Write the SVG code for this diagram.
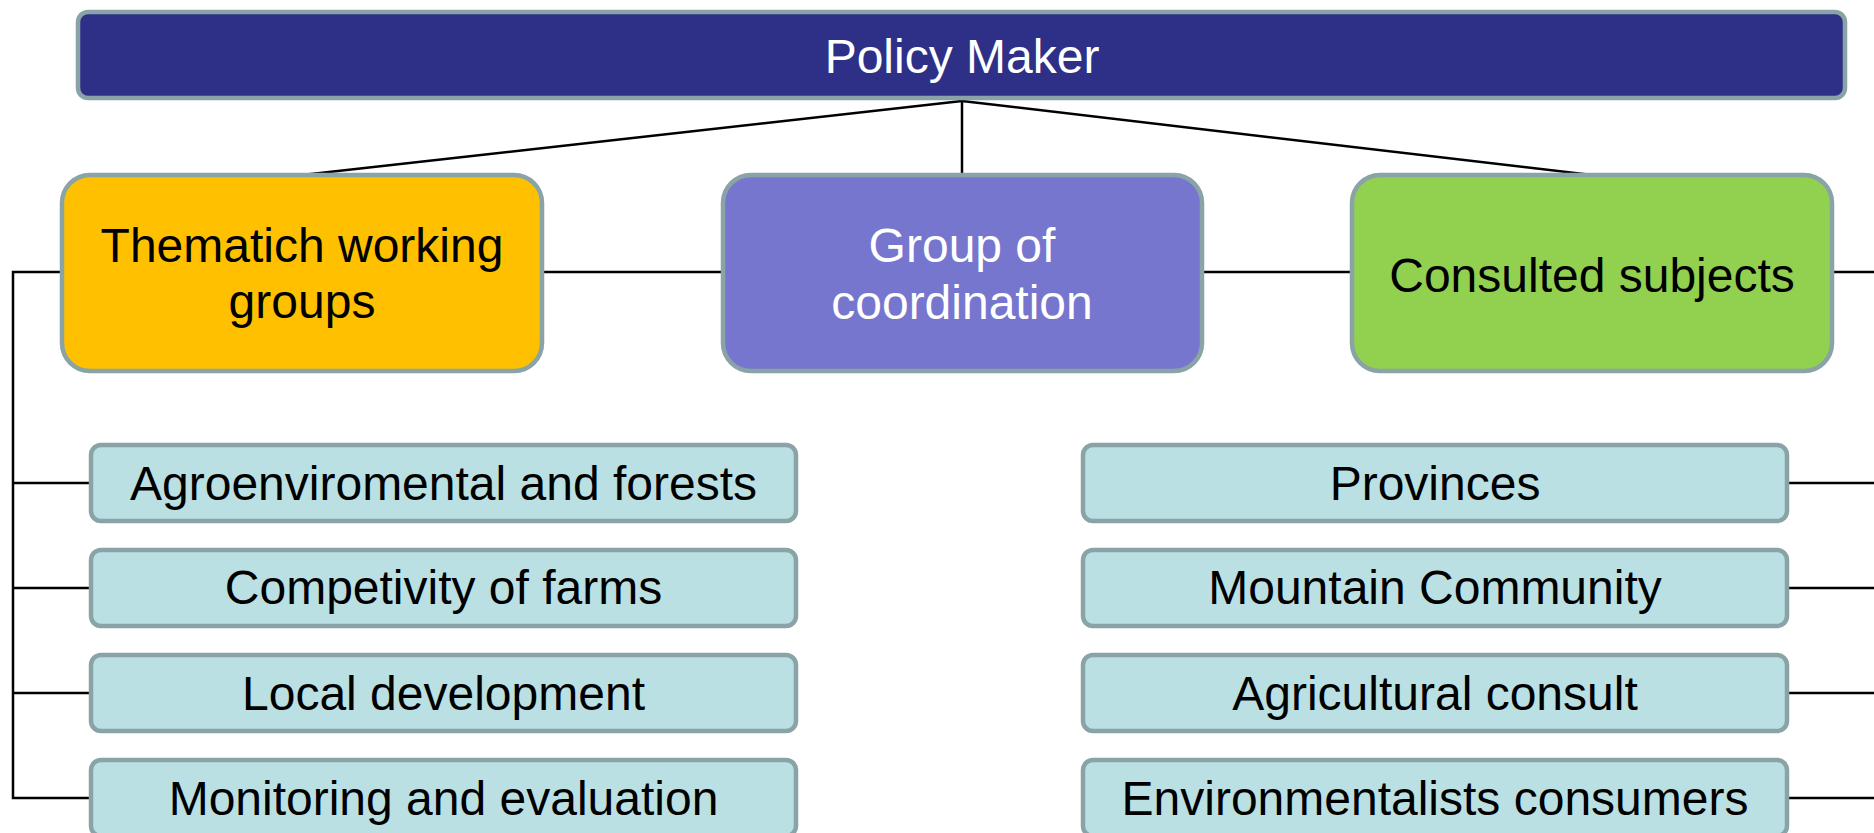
<svg xmlns="http://www.w3.org/2000/svg" width="1874" height="833" viewBox="0 0 1874 833">
<style>
  .box { stroke: #8AA3A6; stroke-width: 4.5; }
  .top { fill: #2E3088; }
  .yel { fill: #FFC000; }
  .pur { fill: #7676CE; }
  .grn { fill: #92D050; }
  .sub { fill: #BBE0E3; }
  .t { font-family: "Liberation Sans", Arial, sans-serif; font-size: 48px; text-anchor: middle; fill: #000; }
  .w { fill: #fff; }
  .c { stroke: #000; stroke-width: 2.5; fill: none; }
</style>
<rect width="1874" height="833" fill="#fff"/>
<g id="connectors">
  <line class="c" x1="962" y1="101" x2="302" y2="175"/>
  <line class="c" x1="962" y1="101" x2="962" y2="175"/>
  <line class="c" x1="962" y1="101" x2="1592" y2="175"/>
  <line class="c" x1="544" y1="272" x2="721" y2="272"/>
  <line class="c" x1="1204" y1="272" x2="1350" y2="272"/>
  <line class="c" x1="1834" y1="272" x2="1874" y2="272"/>
  <polyline class="c" points="60,272 13,272 13,798 89,798"/>
  <line class="c" x1="13" y1="483" x2="89" y2="483"/>
  <line class="c" x1="13" y1="588" x2="89" y2="588"/>
  <line class="c" x1="13" y1="693" x2="89" y2="693"/>
  <line class="c" x1="1789" y1="483" x2="1874" y2="483"/>
  <line class="c" x1="1789" y1="588" x2="1874" y2="588"/>
  <line class="c" x1="1789" y1="693" x2="1874" y2="693"/>
  <line class="c" x1="1789" y1="798" x2="1874" y2="798"/>
</g>
<g id="policy-maker">
  <rect class="box top" x="78" y="12" width="1767" height="86" rx="10"/>
  <text class="t w" x="962" y="73">Policy Maker</text>
</g>
<g id="thematic-groups">
  <rect class="box yel" x="62" y="175" width="480" height="196" rx="28"/>
  <text class="t" x="302" y="262">Thematich working</text>
  <text class="t" x="302" y="318">groups</text>
</g>
<g id="coordination">
  <rect class="box pur" x="723" y="175" width="479" height="196" rx="28"/>
  <text class="t w" x="962" y="262">Group of</text>
  <text class="t w" x="962" y="319">coordination</text>
</g>
<g id="consulted">
  <rect class="box grn" x="1352" y="175" width="480" height="196" rx="28"/>
  <text class="t" x="1592" y="292">Consulted subjects</text>
</g>
<g id="agro">
  <rect class="box sub" x="91" y="445" width="705" height="76" rx="10"/>
  <text class="t" x="443.5" y="500">Agroenviromental and forests</text>
</g>
<g id="competivity">
  <rect class="box sub" x="91" y="550" width="705" height="76" rx="10"/>
  <text class="t" x="443.5" y="604">Competivity of farms</text>
</g>
<g id="local">
  <rect class="box sub" x="91" y="655" width="705" height="76" rx="10"/>
  <text class="t" x="443.5" y="710">Local development</text>
</g>
<g id="monitoring">
  <rect class="box sub" x="91" y="760" width="705" height="76" rx="10"/>
  <text class="t" x="443.5" y="815">Monitoring and evaluation</text>
</g>
<g id="provinces">
  <rect class="box sub" x="1083" y="445" width="704" height="76" rx="10"/>
  <text class="t" x="1435" y="500">Provinces</text>
</g>
<g id="mountain">
  <rect class="box sub" x="1083" y="550" width="704" height="76" rx="10"/>
  <text class="t" x="1435" y="604">Mountain Community</text>
</g>
<g id="agricultural">
  <rect class="box sub" x="1083" y="655" width="704" height="76" rx="10"/>
  <text class="t" x="1435" y="710">Agricultural consult</text>
</g>
<g id="environmentalists">
  <rect class="box sub" x="1083" y="760" width="704" height="76" rx="10"/>
  <text class="t" x="1435" y="815">Environmentalists consumers</text>
</g>
</svg>
